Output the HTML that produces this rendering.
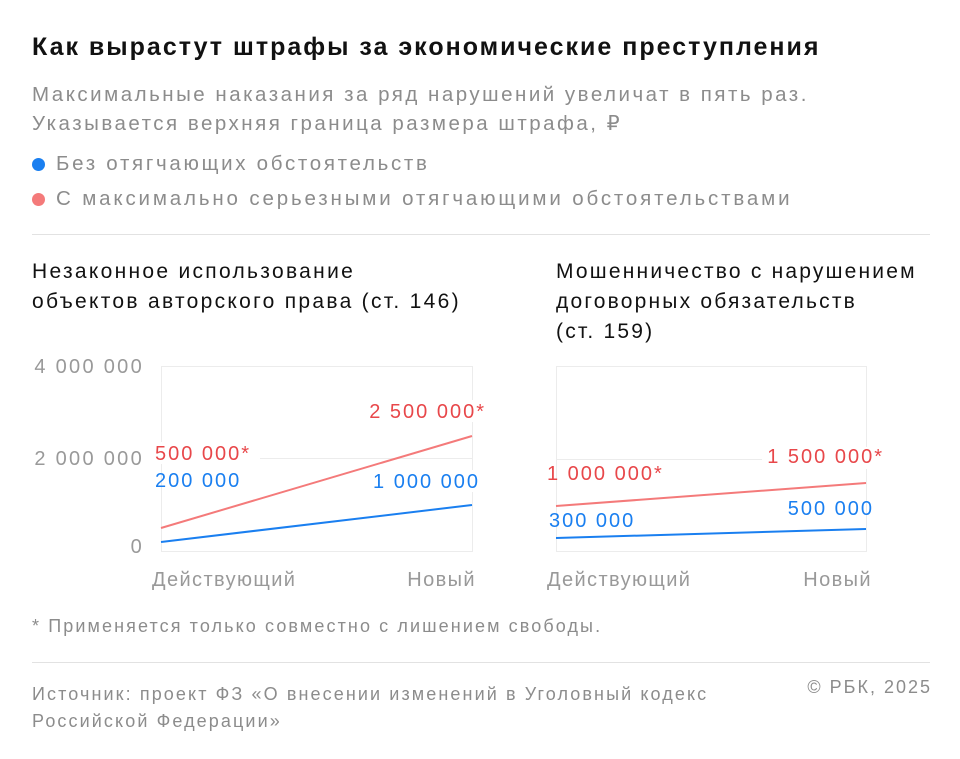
<!DOCTYPE html><html><head><meta charset="utf-8"><style>
body{margin:0;width:960px;height:759px;background:#fff;font-family:"Liberation Sans","DejaVu Sans",sans-serif;position:relative;overflow:hidden}
.t{position:absolute;white-space:nowrap;line-height:1}
.g{color:#8c8c8c}
</style></head><body>
<div class="t" style="left:32px;top:35px;font-size:25px;font-weight:bold;color:#111;letter-spacing:2px">Как вырастут штрафы за экономические преступления</div>
<div class="t g" style="left:32px;top:80px;font-size:20.5px;line-height:29px;letter-spacing:2.5px">Максимальные наказания за ряд нарушений увеличат в пять раз.<br>Указывается верхняя граница размера штрафа, ₽</div>
<div style="position:absolute;left:32px;top:158px;width:13px;height:13px;border-radius:50%;background:#1a7ff0"></div>
<div class="t g" style="left:56px;top:154px;font-size:20.5px;letter-spacing:2.7px">Без отягчающих обстоятельств</div>
<div style="position:absolute;left:32px;top:193px;width:13px;height:13px;border-radius:50%;background:#f47a7a"></div>
<div class="t g" style="left:56px;top:189px;font-size:20.5px;letter-spacing:2.85px">С максимально серьезными отягчающими обстоятельствами</div>
<div style="position:absolute;left:32px;top:234px;width:898px;height:1px;background:#e2e2e2"></div>
<div class="t" style="left:32px;top:257px;font-size:21px;line-height:30px;color:#111;letter-spacing:2.3px">Незаконное использование<br>объектов авторского права (ст. 146)</div>
<div class="t" style="left:556px;top:257px;font-size:21px;line-height:30px;color:#111;letter-spacing:2.2px">Мошенничество с нарушением<br>договорных обязательств<br>(ст. 159)</div>
<svg width="960" height="759" style="position:absolute;left:0;top:0" font-family="Liberation Sans, DejaVu Sans, sans-serif">
<g stroke="#ececec" stroke-width="1" fill="none">
<rect x="161.5" y="366.5" width="311" height="185"/><line x1="161" y1="458.5" x2="472" y2="458.5"/>
<rect x="556.5" y="366.5" width="310" height="185"/><line x1="556" y1="459.5" x2="866" y2="459.5"/>
</g>
<g font-size="20" fill="#999" text-anchor="end" letter-spacing="2.3">
<text x="144" y="373">4 000 000</text><text x="144" y="465">2 000 000</text><text x="144" y="553">0</text>
</g>
<g font-size="20" fill="#999" letter-spacing="1.4">
<text x="152" y="586">Действующий</text><text x="476" y="586" text-anchor="end">Новый</text>
<text x="547" y="586">Действующий</text><text x="872" y="586" text-anchor="end">Новый</text>
</g>
<line x1="161" y1="528" x2="472" y2="436" stroke="#f47a7a" stroke-width="2"/>
<line x1="161" y1="542" x2="472" y2="505" stroke="#1a7ff0" stroke-width="2"/>
<line x1="556" y1="506" x2="866" y2="483" stroke="#f47a7a" stroke-width="2"/>
<line x1="556" y1="538" x2="866" y2="529" stroke="#1a7ff0" stroke-width="2"/>
<g font-size="20" letter-spacing="2">
<rect x="152" y="442" width="108" height="22" fill="#fff"/>
<text x="155" y="460" fill="#e8474a">500 000*</text>
<text x="155" y="487" fill="#1a7ff0">200 000</text>
<rect x="362" y="400" width="125" height="22" fill="#fff"/>
<text x="486" y="418" fill="#e8474a" text-anchor="end">2 500 000*</text>
<rect x="362" y="470" width="120" height="22" fill="#fff"/>
<text x="480" y="488" fill="#1a7ff0" text-anchor="end">1 000 000</text>
<text x="547" y="480" fill="#e8474a">1 000 000*</text>
<rect x="762" y="447" width="124" height="22" fill="#fff"/>
<text x="884" y="463" fill="#e8474a" text-anchor="end">1 500 000*</text>
<text x="549" y="527" fill="#1a7ff0">300 000</text>
<text x="874" y="515" fill="#1a7ff0" text-anchor="end">500 000</text>
</g>
</svg>
<div class="t g" style="left:32px;top:617px;font-size:18px;letter-spacing:2.1px">* Применяется только совместно с лишением свободы.</div>
<div style="position:absolute;left:32px;top:662px;width:898px;height:1px;background:#e2e2e2"></div>
<div class="t g" style="left:32px;top:681px;font-size:18px;line-height:27px;letter-spacing:2.1px">Источник: проект ФЗ «О внесении изменений в Уголовный кодекс<br>Российской Федерации»</div>
<div class="t g" style="right:28px;top:678px;font-size:18px;letter-spacing:2px">© РБК, 2025</div>
</body></html>
